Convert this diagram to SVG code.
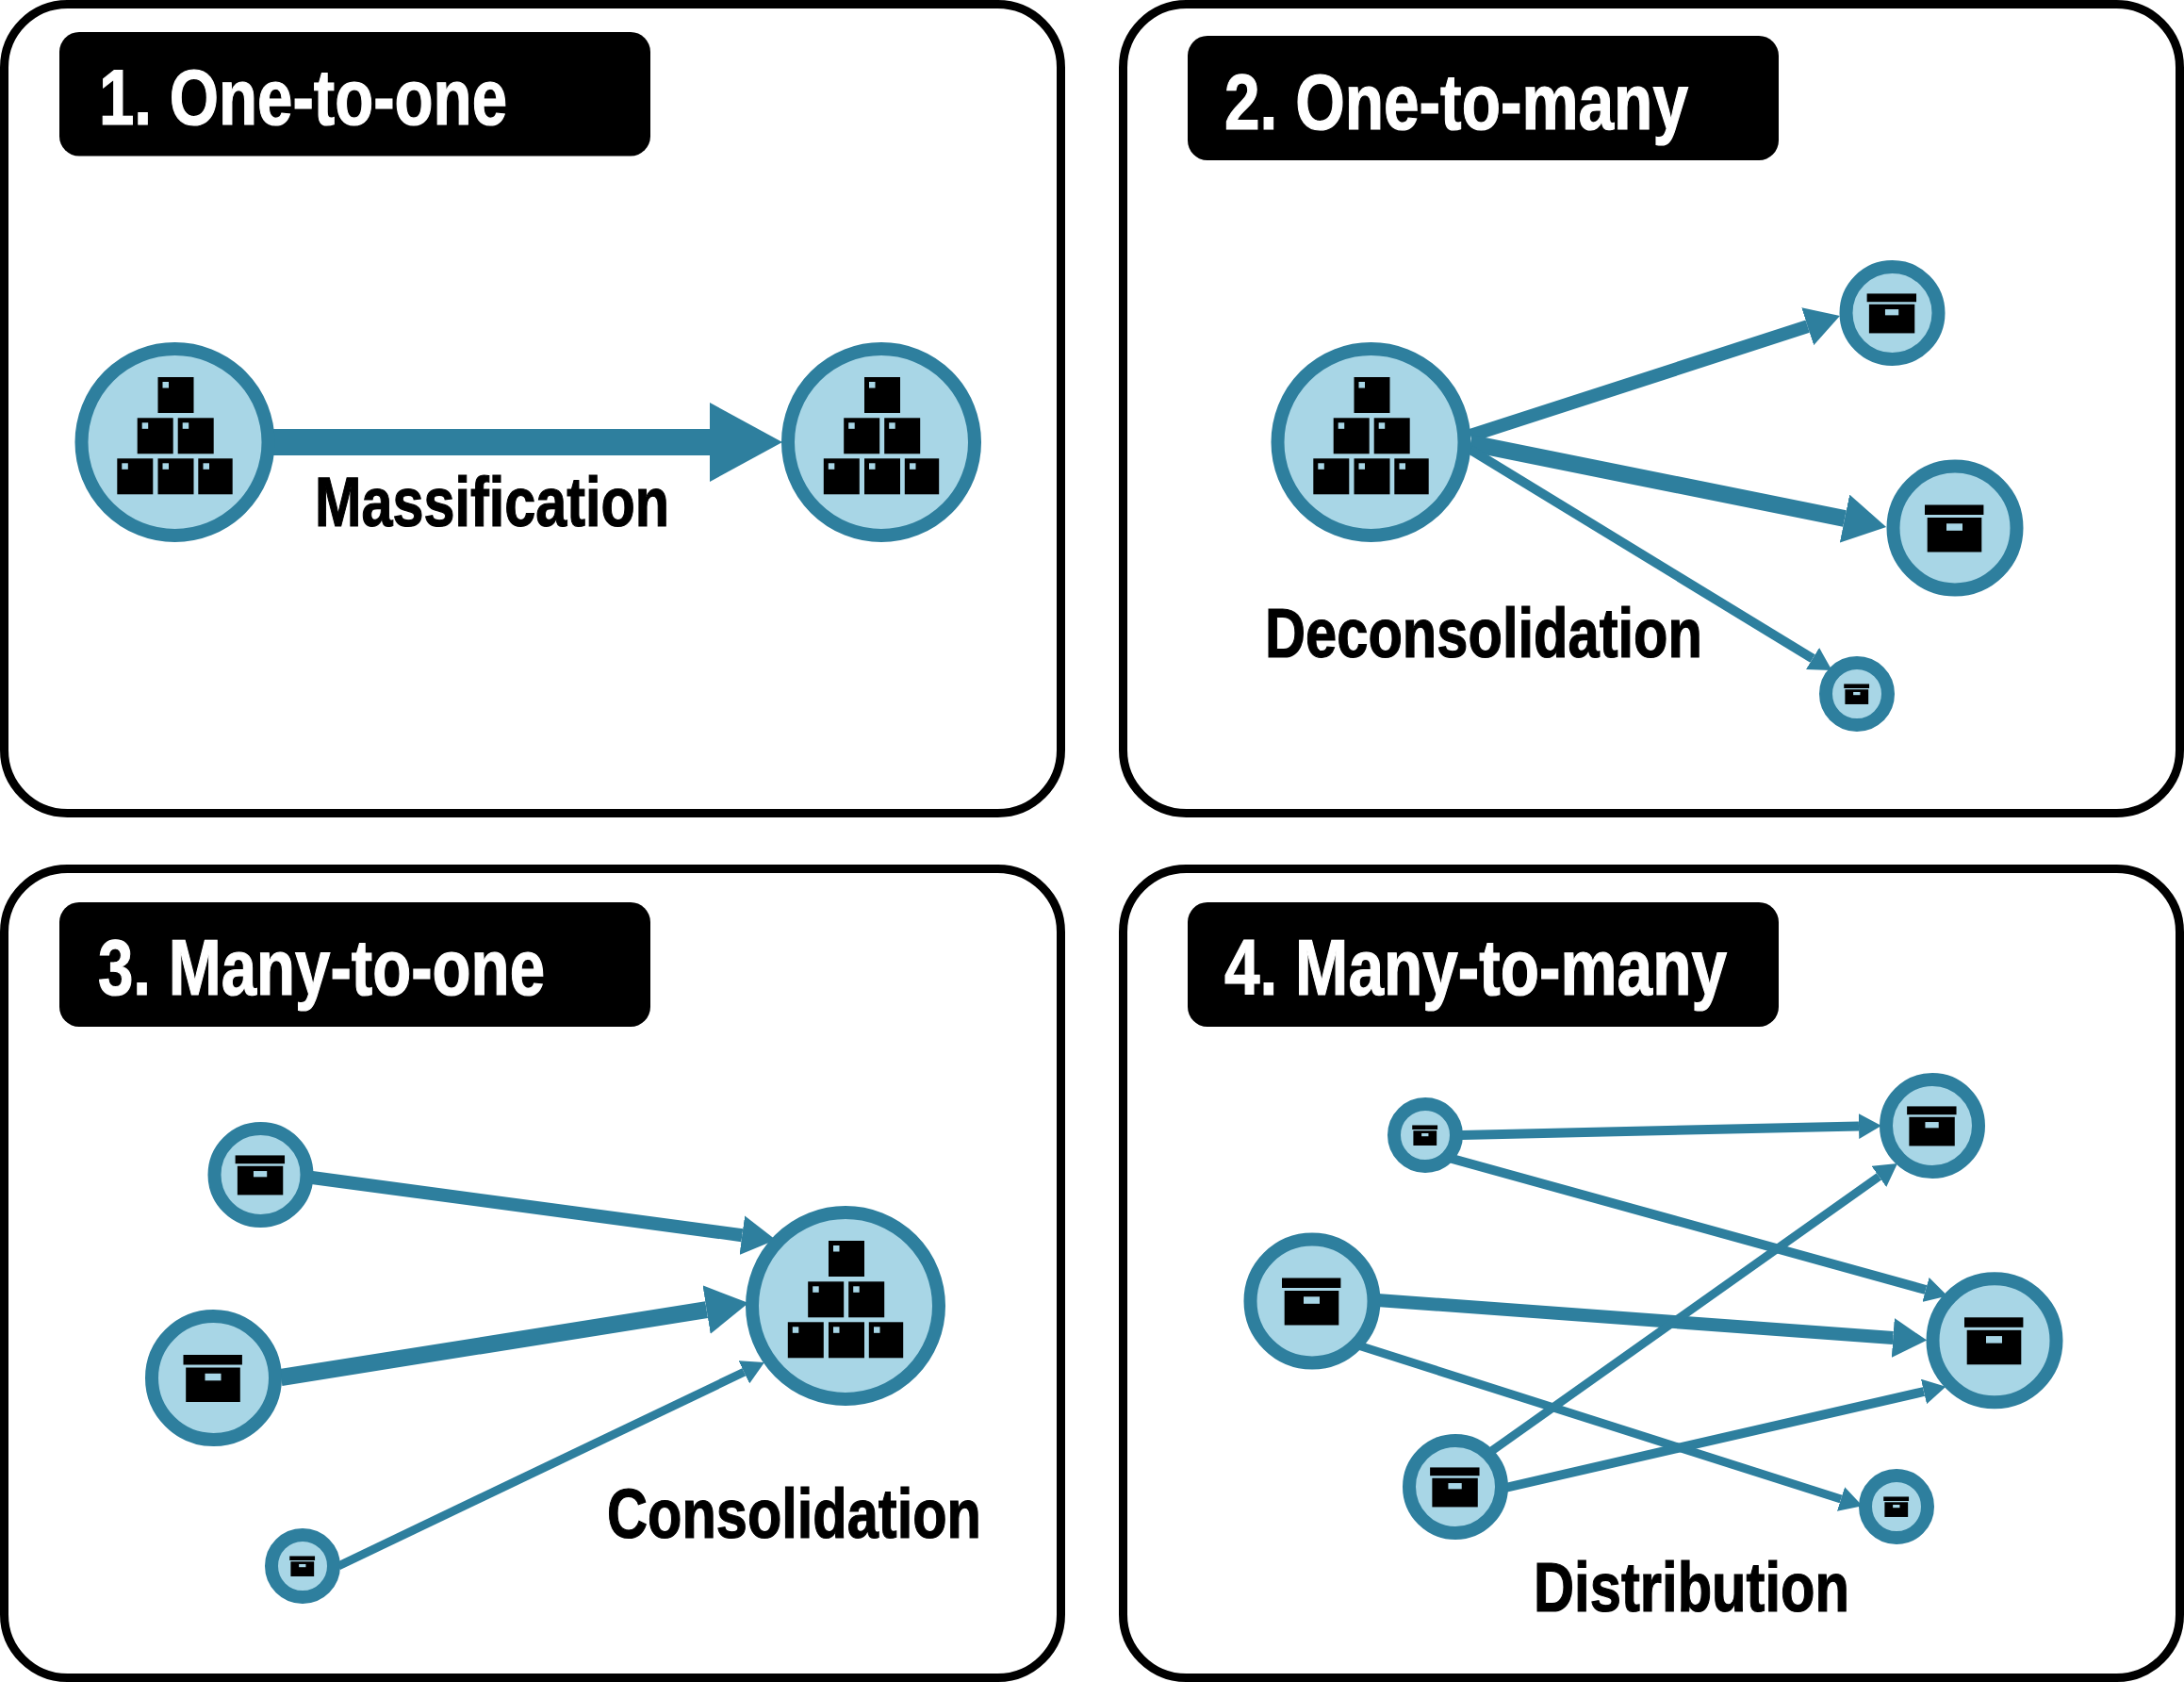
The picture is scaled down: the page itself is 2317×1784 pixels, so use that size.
<svg xmlns="http://www.w3.org/2000/svg" width="2317" height="1784" viewBox="0 0 2317 1784">
<style>
.panel{fill:#fff;stroke:#000;stroke-width:9}
.tag{fill:#000}
.title{font-family:"Liberation Sans",Arial,sans-serif;font-weight:700;font-size:84px;fill:#fff;stroke:#fff;stroke-width:1.200}
.label{font-family:"Liberation Sans",Arial,sans-serif;font-weight:700;font-size:75px;fill:#000;stroke:#000;stroke-width:1.200}
.disc{fill:#a8d6e6;stroke:#2e7f9e;stroke-width:14}
.c{stroke:#2e7f9e;fill:none}
.h{fill:#2e7f9e}
.spot{fill:#a8d6e6}
</style>
<defs>
<marker id="a77" markerUnits="userSpaceOnUse" viewBox="0 0 10 10" refX="0" refY="5" markerWidth="77" markerHeight="84" preserveAspectRatio="none" orient="auto"><path class="h" d="M0 0L10 5L0 10z"/></marker>
<marker id="a45" markerUnits="userSpaceOnUse" viewBox="0 0 10 10" refX="0" refY="5" markerWidth="45" markerHeight="52" preserveAspectRatio="none" orient="auto"><path class="h" d="M0 0L10 5L0 10z"/></marker>
<marker id="a36" markerUnits="userSpaceOnUse" viewBox="0 0 10 10" refX="0" refY="5" markerWidth="36" markerHeight="42" preserveAspectRatio="none" orient="auto"><path class="h" d="M0 0L10 5L0 10z"/></marker>
<marker id="a24" markerUnits="userSpaceOnUse" viewBox="0 0 10 10" refX="0" refY="5" markerWidth="24" markerHeight="27" preserveAspectRatio="none" orient="auto"><path class="h" d="M0 0L10 5L0 10z"/></marker>
<g id="crate"><rect width="38" height="38"/><rect class="spot" x="5" y="5" width="6.500" height="6.500"/></g>
<g id="pile">
<use href="#crate" x="-18" y="-69"/>
<use href="#crate" x="-39.800" y="-25.700"/><use href="#crate" x="3.200" y="-25.700"/>
<use href="#crate" x="-61.200" y="17.300"/><use href="#crate" x="-18" y="17.300"/>
<rect x="24.800" y="17.300" width="36.400" height="38"/><rect class="spot" x="30" y="22.300" width="6.500" height="6.500"/>
</g>
<g id="box">
<rect x="-32" y="-24.500" width="62.400" height="10.500"/>
<rect x="-29.300" y="-11" width="57.600" height="36.500"/>
<rect class="spot" x="-9" y="-4.700" width="17" height="7.500"/>
</g>
</defs>
<g id="panels">
<rect class="panel" x="4.500" y="4.500" width="1121" height="858" rx="67"/>
<rect class="panel" x="1191.500" y="4.500" width="1121" height="858" rx="67"/>
<rect class="panel" x="4.500" y="921.500" width="1121" height="858" rx="67"/>
<rect class="panel" x="1191.500" y="921.500" width="1121" height="858" rx="67"/>
</g>
<g id="titles">
<rect class="tag" x="63" y="34" width="627" height="131.500" rx="21"/>
<text class="title" x="105" y="132" textLength="433" lengthAdjust="spacingAndGlyphs">1. One-to-one</text>
<rect class="tag" x="1260" y="38" width="627" height="132" rx="21"/>
<text class="title" x="1299" y="137" textLength="492" lengthAdjust="spacingAndGlyphs">2. One-to-many</text>
<rect class="tag" x="63" y="957" width="627" height="132" rx="21"/>
<text class="title" x="104" y="1055" textLength="474" lengthAdjust="spacingAndGlyphs">3. Many-to-one</text>
<rect class="tag" x="1260" y="957" width="627" height="132" rx="21"/>
<text class="title" x="1299" y="1055" textLength="533" lengthAdjust="spacingAndGlyphs">4. Many-to-many</text>
</g>
<g id="connectors">
<line class="c" x1="285" y1="469" x2="753" y2="469" stroke-width="28" marker-end="url(#a77)"/>
<line class="c" x1="1560" y1="462" x2="1917.700" y2="346.200" stroke-width="14" marker-end="url(#a36)"/>
<line class="c" x1="1560" y1="470" x2="1957" y2="550" stroke-width="18" marker-end="url(#a45)"/>
<line class="c" x1="1560" y1="477" x2="1923" y2="698.500" stroke-width="10" marker-end="url(#a24)"/>
<line class="c" x1="331" y1="1249" x2="787.300" y2="1310.200" stroke-width="14" marker-end="url(#a36)"/>
<line class="c" x1="298" y1="1461" x2="749.600" y2="1389.100" stroke-width="18" marker-end="url(#a45)"/>
<line class="c" x1="359" y1="1661" x2="789.300" y2="1455.300" stroke-width="9" marker-end="url(#a24)"/>
<line class="c" x1="1550" y1="1204" x2="1972" y2="1194.500" stroke-width="10" marker-end="url(#a24)"/>
<line class="c" x1="1537" y1="1228" x2="2043" y2="1368" stroke-width="10" marker-end="url(#a24)"/>
<line class="c" x1="1461" y1="1379" x2="2008.300" y2="1419" stroke-width="14" marker-end="url(#a36)"/>
<line class="c" x1="1441" y1="1427" x2="1953" y2="1590" stroke-width="9" marker-end="url(#a24)"/>
<line class="c" x1="1581" y1="1540" x2="1993.400" y2="1247.900" stroke-width="9" marker-end="url(#a24)"/>
<line class="c" x1="1597" y1="1578" x2="2041" y2="1476" stroke-width="10" marker-end="url(#a24)"/>
</g>
<g id="n1a"><circle class="disc" cx="185.500" cy="469" r="99"/><use href="#pile" x="185.500" y="469"/></g>
<g id="n1b"><circle class="disc" cx="935" cy="469" r="99"/><use href="#pile" x="935" y="469"/></g>
<g id="n2a"><circle class="disc" cx="1454.500" cy="469" r="99"/><use href="#pile" x="1454.500" y="469"/></g>
<g id="n2b"><circle class="disc" cx="2007.500" cy="332" r="49"/><use href="#box" transform="translate(2007.500 332) scale(.84)"/></g>
<g id="n2c"><circle class="disc" cx="2074" cy="560" r="65.500"/><use href="#box" transform="translate(2074 560)"/></g>
<g id="n2d"><circle class="disc" cx="1970" cy="736" r="33"/><use href="#box" transform="translate(1970 736) scale(.43)"/></g>
<g id="n3a"><circle class="disc" cx="897" cy="1385" r="99"/><use href="#pile" x="897" y="1385"/></g>
<g id="n3b"><circle class="disc" cx="276.500" cy="1246" r="49"/><use href="#box" transform="translate(276.500 1246) scale(.84)"/></g>
<g id="n3c"><circle class="disc" cx="226.500" cy="1461.500" r="65.500"/><use href="#box" transform="translate(226.500 1461.500)"/></g>
<g id="n3d"><circle class="disc" cx="321" cy="1661" r="33"/><use href="#box" transform="translate(321 1661) scale(.43)"/></g>
<g id="n4a"><circle class="disc" cx="1512" cy="1204" r="33"/><use href="#box" transform="translate(1512 1204) scale(.43)"/></g>
<g id="n4b"><circle class="disc" cx="2050" cy="1194" r="49"/><use href="#box" transform="translate(2050 1194) scale(.84)"/></g>
<g id="n4c"><circle class="disc" cx="1392" cy="1380" r="65.500"/><use href="#box" transform="translate(1392 1380)"/></g>
<g id="n4d"><circle class="disc" cx="2116" cy="1421.800" r="65.500"/><use href="#box" transform="translate(2116 1421.800)"/></g>
<g id="n4e"><circle class="disc" cx="1544" cy="1577" r="49"/><use href="#box" transform="translate(1544 1577) scale(.84)"/></g>
<g id="n4f"><circle class="disc" cx="2012" cy="1598" r="33"/><use href="#box" transform="translate(2012 1598) scale(.43)"/></g>
<g id="labels">
<text class="label" x="334" y="558" textLength="376" lengthAdjust="spacingAndGlyphs">Massification</text>
<text class="label" x="1342" y="697" textLength="464" lengthAdjust="spacingAndGlyphs">Deconsolidation</text>
<text class="label" x="644" y="1631" textLength="397" lengthAdjust="spacingAndGlyphs">Consolidation</text>
<text class="label" x="1627" y="1709" textLength="335" lengthAdjust="spacingAndGlyphs">Distribution</text>
</g>
</svg>
